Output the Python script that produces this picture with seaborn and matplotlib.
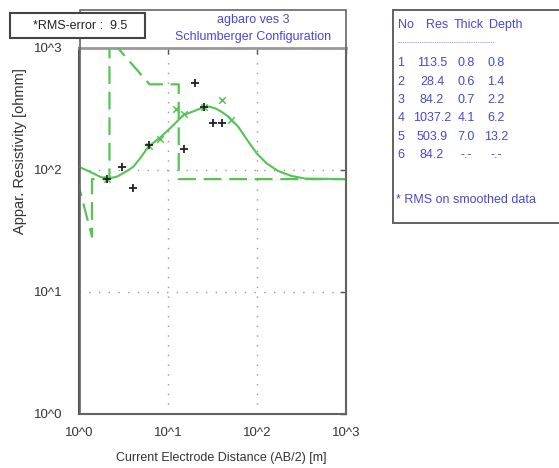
import numpy as np
import matplotlib.pyplot as plt
import matplotlib.ticker as mticker
from matplotlib.patches import Rectangle
import seaborn as sns

# Field data (+), AB/2 [m] and apparent resistivity [ohmm]
ab2_obs = [2.05, 3.07, 4.08, 6.1, 15.1, 20.3, 25.2, 31.8, 40.8]
rho_obs = [84, 105, 71, 159, 148, 513, 328, 244, 241]

# Smoothed data (x)
ab2_smooth = [2.05, 6.1, 8.13, 12.3, 15.2, 25.2, 40.4, 50.6]
rho_smooth = [84, 158, 180, 314, 286, 327, 375, 257]

# Calculated sounding curve
ab2_calc = [1.0, 1.2, 1.44, 1.72, 2.1, 2.65, 3.3, 4.07, 5.0, 6.0, 8.13, 11.0,
            14.9, 20.1, 24.9, 29.0, 33.7, 40.0, 47.6, 61.6, 79.8, 99.3, 128,
            173, 245, 350, 1000]
rho_calc = [106, 100, 94, 88, 85, 88, 96, 106, 128, 155, 184, 226,
            282, 306, 327, 330, 321, 300, 274, 226, 171, 137, 113.5,
            98, 89.3, 85, 84.2]

# Layered model as drawn
model_x = [0.8, 1.4, 1.4, 2.2, 2.2, 6.2, 13.2, 13.2, 1000]
model_y = [135, 28.4, 84.2, 84.2, 1200, 503.9, 503.9, 84.2, 84.2]

# Layer table
layer_no = ['1', '2', '3', '4', '5', '6']
layer_res = ['113.5', '28.4', '84.2', '1037.2', '503.9', '84.2']
layer_thick = ['0.8', '0.6', '0.7', '4.1', '7.0', '-.-']
layer_depth = ['0.8', '1.4', '2.2', '6.2', '13.2', '-.-']

title_lines = ['agbaro ves 3', 'Schlumberger Configuration']
rms_error = 9.5

sns.set_style('white')
plt.rcParams['font.family'] = ['Liberation Sans Narrow', 'Liberation Sans', 'DejaVu Sans']

W, H = 559, 468
green = '#55c455'
blue = '#4848d4'

fig = plt.figure(figsize=(W / 100, H / 100), dpi=100)
fig.patch.set_facecolor('white')


def fx(px):
    return px / W


def fy(py):
    return (H - py) / H


ax = fig.add_axes([fx(79), fy(414), fx(346) - fx(79), fy(48) - fy(414)])
ax.set_xscale('log')
ax.set_yscale('log')

sns.lineplot(x=model_x, y=model_y, ax=ax, sort=False, estimator=None,
             color=green, lw=1.6, linestyle=(0, (8, 3.5)), zorder=3)
sns.lineplot(x=ab2_calc, y=rho_calc, ax=ax, sort=False, estimator=None,
             color=green, lw=1.5, zorder=4)
sns.scatterplot(x=ab2_smooth, y=rho_smooth, ax=ax, marker='x', color=green,
                s=22, linewidth=1.1, zorder=5)
sns.scatterplot(x=ab2_obs, y=rho_obs, ax=ax, marker='+', color='#222222',
                s=38, linewidth=1.3, zorder=6)

ax.set_xlim(1, 1000)
ax.set_ylim(1, 1000)

fmt = mticker.FuncFormatter(lambda v, p: '10^%d' % int(round(np.log10(v))))
for axis in (ax.xaxis, ax.yaxis):
    axis.set_major_locator(mticker.LogLocator(base=10, numticks=5))
    axis.set_minor_locator(mticker.LogLocator(base=10, subs=np.arange(2, 10), numticks=20))
    axis.set_major_formatter(fmt)
    axis.set_minor_formatter(mticker.NullFormatter())

ax.tick_params(which='major', direction='in', length=4, width=1, color='#555555',
               top=True, right=True, labelsize=9.5, labelcolor='#333333')
ax.tick_params(which='minor', direction='in', length=2.5, width=0.8, color='#555555',
               top=False, right=False)
ax.tick_params(axis='y', which='major', pad=12)
ax.tick_params(axis='x', which='major', pad=9)

ax.grid(which='major', color='#999999', linestyle=(0, (1, 6)), lw=1)

for side in ['left', 'bottom', 'right']:
    ax.spines[side].set_color('#555555')
    ax.spines[side].set_linewidth(1.5)
ax.spines['top'].set_color('#999999')
ax.spines['top'].set_linewidth(2)

ax.set_xlabel('')
ax.set_ylabel('')

# axis labels
fig.text(fx(221), fy(458), 'Current Electrode Distance (AB/2) [m]', ha='center', va='center',
         fontsize=9, color='#333333')
fig.text(fx(20), fy(151), 'Appar. Resistivity [ohmm]', ha='center', va='center',
         rotation=90, fontsize=10.5, color='#333333', family=['Liberation Sans', 'DejaVu Sans'])

# frame around plot and title area
fig.add_artist(Rectangle((fx(80), fy(414)), fx(346) - fx(80), fy(10) - fy(414),
                         transform=fig.transFigure, fill=False, edgecolor='#666666', lw=1.2))

# title
fig.text(fx(253), fy(20), title_lines[0], ha='center', va='center', fontsize=9, color=blue)
fig.text(fx(253), fy(37), title_lines[1], ha='center', va='center', fontsize=9, color=blue)

# RMS box
fig.add_artist(Rectangle((fx(10), fy(38)), fx(145) - fx(10), fy(13) - fy(38),
                         transform=fig.transFigure, facecolor='white', edgecolor='#444444',
                         lw=1.5, zorder=5))
fig.text(fx(33), fy(26), '*RMS-error :  %.1f' % rms_error, ha='left', va='center',
         fontsize=9, color='#222222', zorder=6)

# layer table panel
fig.add_artist(Rectangle((fx(393), fy(223)), fx(580) - fx(393), fy(10) - fy(223),
                         transform=fig.transFigure, facecolor='white', edgecolor='#555555',
                         lw=1.3))
fig.text(fx(398), fy(25), 'No', ha='left', va='center', fontsize=9, color=blue)
fig.text(fx(437), fy(25), 'Res', ha='center', va='center', fontsize=9, color=blue)
fig.text(fx(469), fy(25), 'Thick', ha='center', va='center', fontsize=9, color=blue)
fig.text(fx(506), fy(25), 'Depth', ha='center', va='center', fontsize=9, color=blue)
fig.text(fx(398), fy(43), '-' * 52, ha='left', va='center', fontsize=4, color=blue)

for i in range(len(layer_no)):
    y = fy(63.3 + i * 18.3)
    fig.text(fx(401), y, layer_no[i], ha='center', va='center', fontsize=9, color=blue)
    fig.text(fx(432), y, layer_res[i], ha='center', va='center', fontsize=9, color=blue)
    fig.text(fx(466), y, layer_thick[i], ha='center', va='center', fontsize=9, color=blue)
    fig.text(fx(496), y, layer_depth[i], ha='center', va='center', fontsize=9, color=blue)

fig.text(fx(396), fy(200), '* RMS on smoothed data', ha='left', va='center', fontsize=9, color=blue)

fig.savefig('out.png', dpi=100)
